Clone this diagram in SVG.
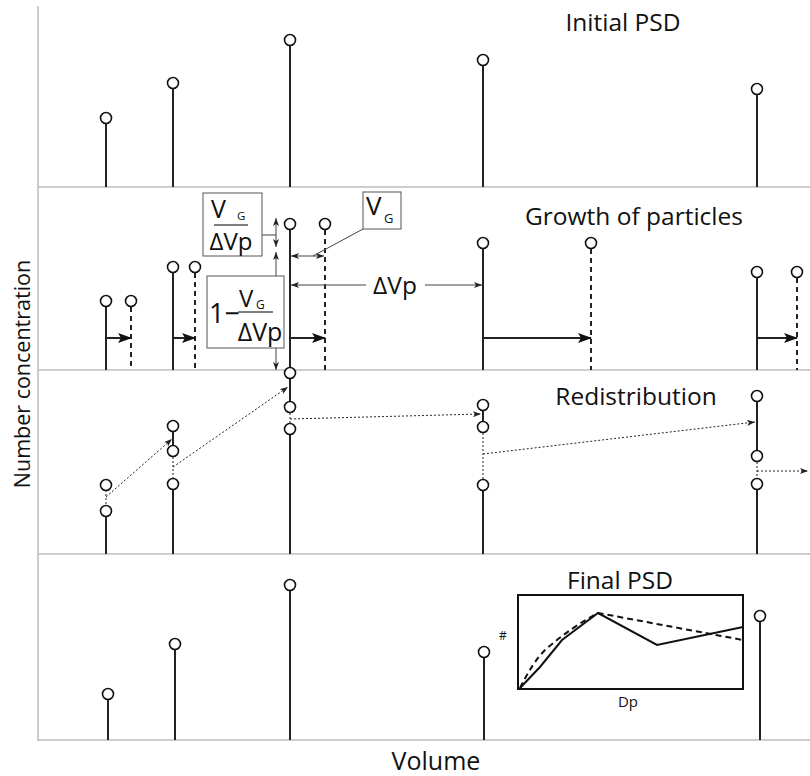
<svg xmlns="http://www.w3.org/2000/svg" width="810" height="776" viewBox="0 0 810 776">
<style>
.ax{stroke:#bdbdbd;stroke-width:1.5;fill:none}
.st{stroke:#222;stroke-width:2;fill:none}
.ds{stroke:#222;stroke-width:2;fill:none;stroke-dasharray:5,4}
.dt{stroke:#222;stroke-width:1;fill:none;stroke-dasharray:2,2}
.dm{stroke:#444;stroke-width:1;fill:none}
.c{fill:#fff;stroke:#111;stroke-width:1.6}
.bx{fill:#fff;stroke:#555;stroke-width:1}
text{font-family:"Open Sans","Noto Sans","DejaVu Sans",sans-serif;fill:#111}
.t{font-size:24.5px}
</style>
<defs>
<marker id="big" markerWidth="14" markerHeight="10" refX="13" refY="5" orient="auto" markerUnits="userSpaceOnUse"><path d="M0,0 L14,5 L0,10 L3,5 Z" fill="#111"/></marker>
<marker id="sm" markerWidth="8" markerHeight="6" refX="8" refY="3" orient="auto-start-reverse" markerUnits="userSpaceOnUse"><path d="M0,0 L8,3 L0,6 L2,3 Z" fill="#222"/></marker>
</defs>

<g id="axes">
<line class="ax" x1="38" y1="6" x2="38" y2="741"/>
<line class="ax" x1="38" y1="187" x2="810" y2="187"/>
<line class="ax" x1="38" y1="370" x2="810" y2="370"/>
<line class="ax" x1="38" y1="554" x2="810" y2="554"/>
<line class="ax" x1="38" y1="740" x2="810" y2="740"/>
<text x="30" y="374" text-anchor="middle" font-size="21.5" transform="rotate(-90 30 374)">Number concentration</text>
<text x="436" y="770" text-anchor="middle" font-size="25">Volume</text>
</g>

<g id="panel-initial">
<text class="t" x="623" y="31" text-anchor="middle">Initial PSD</text>
<line class="st" x1="106" y1="124" x2="106" y2="187"/><circle class="c" cx="106" cy="118" r="5.5"/>
<line class="st" x1="173" y1="89" x2="173" y2="187"/><circle class="c" cx="173" cy="83" r="5.5"/>
<line class="st" x1="290" y1="46" x2="290" y2="187"/><circle class="c" cx="290" cy="40" r="5.5"/>
<line class="st" x1="483" y1="66" x2="483" y2="187"/><circle class="c" cx="483" cy="60" r="5.5"/>
<line class="st" x1="757" y1="95" x2="757" y2="187"/><circle class="c" cx="757" cy="89" r="5.5"/>
</g>

<g id="panel-growth">
<text class="t" x="634" y="225" text-anchor="middle">Growth of particles</text>
<line class="st" x1="106" y1="307" x2="106" y2="370"/><circle class="c" cx="106" cy="301" r="5.5"/>
<line class="ds" x1="131" y1="307" x2="131" y2="370"/><circle class="c" cx="131" cy="301" r="5.5"/>
<line class="st" x1="173" y1="273" x2="173" y2="370"/><circle class="c" cx="173" cy="267" r="5.5"/>
<line class="ds" x1="195" y1="273" x2="195" y2="370"/><circle class="c" cx="195" cy="267" r="5.5"/>
<line class="st" x1="290" y1="230" x2="290" y2="368"/><circle class="c" cx="290" cy="224" r="5.5"/>
<line class="ds" x1="325" y1="230" x2="325" y2="370"/><circle class="c" cx="325" cy="224" r="5.5"/>
<line class="st" x1="483" y1="249" x2="483" y2="370"/><circle class="c" cx="483" cy="243" r="5.5"/>
<line class="ds" x1="591" y1="249" x2="591" y2="370"/><circle class="c" cx="591" cy="243" r="5.5"/>
<line class="st" x1="757" y1="278" x2="757" y2="370"/><circle class="c" cx="757" cy="272" r="5.5"/>
<line class="ds" x1="797" y1="278" x2="797" y2="370"/><circle class="c" cx="797" cy="272" r="5.5"/>
</g>

<g id="connectors">
<line class="st" x1="106" y1="338" x2="131" y2="338" marker-end="url(#big)"/>
<line class="st" x1="173" y1="338" x2="195" y2="338" marker-end="url(#big)"/>
<line class="st" x1="290" y1="338" x2="325" y2="338" marker-end="url(#big)"/>
<line class="st" x1="483" y1="338" x2="591" y2="338" marker-end="url(#big)"/>
<line class="st" x1="757" y1="338" x2="797" y2="338" marker-end="url(#big)"/>
<line class="dm" x1="276" y1="218" x2="276" y2="247" marker-start="url(#sm)" marker-end="url(#sm)"/>
<line class="dm" x1="276" y1="252" x2="276" y2="370" marker-start="url(#sm)" marker-end="url(#sm)"/>
<line class="dm" x1="262" y1="235" x2="276" y2="235"/>
<line class="dm" x1="291" y1="256" x2="324" y2="256" marker-start="url(#sm)" marker-end="url(#sm)"/>
<line class="dm" x1="363" y1="229" x2="313" y2="256"/>
<line class="dm" x1="366" y1="285" x2="291" y2="285" marker-end="url(#sm)"/>
<line class="dm" x1="425" y1="285" x2="482" y2="285" marker-end="url(#sm)"/>
<line class="dt" x1="106" y1="497" x2="172" y2="439" marker-end="url(#sm)"/>
<line class="dt" x1="173" y1="467" x2="288" y2="387" marker-end="url(#sm)"/>
<line class="dt" x1="290" y1="419" x2="481" y2="414" marker-end="url(#sm)"/>
<line class="dt" x1="483" y1="454" x2="755" y2="422" marker-end="url(#sm)"/>
<line class="dt" x1="757" y1="471" x2="808" y2="471" marker-end="url(#sm)"/>
</g>

<g id="label-vg-dvp">
<rect class="bx" x="203" y="193" width="59" height="63"/>
<text x="211" y="218" font-size="25">V</text>
<text x="237" y="220" font-size="11.5">G</text>
<line x1="214" y1="225" x2="248" y2="225" stroke="#555" stroke-width="1.5"/>
<text x="231" y="250" font-size="24" text-anchor="middle">ΔVp</text>
</g>

<g id="label-one-minus">
<rect class="bx" x="207" y="276" width="77" height="72"/>
<text x="209" y="323" font-size="27">1−</text>
<text x="239" y="307" font-size="24">V</text>
<text x="256" y="309" font-size="12">G</text>
<line x1="238" y1="312" x2="273" y2="312" stroke="#555" stroke-width="1.5"/>
<text x="260" y="341" font-size="25" text-anchor="middle">ΔVp</text>
</g>

<g id="label-vg">
<rect class="bx" x="363" y="192" width="38" height="37"/>
<text x="366" y="215" font-size="26">V</text>
<text x="384" y="223" font-size="13">G</text>
</g>

<g id="label-dvp">
<text x="395" y="294" font-size="24.5" text-anchor="middle">ΔVp</text>
</g>

<g id="panel-redistribution">
<text class="t" x="636" y="405" text-anchor="middle">Redistribution</text>
<line class="dt" x1="106" y1="490" x2="106" y2="506"/>
<line class="st" x1="106" y1="517" x2="106" y2="554"/>
<circle class="c" cx="106" cy="485" r="5.5"/><circle class="c" cx="106" cy="511" r="5.5"/>
<line class="st" x1="173" y1="431" x2="173" y2="446"/>
<line class="dt" x1="173" y1="457" x2="173" y2="479"/>
<line class="st" x1="173" y1="490" x2="173" y2="554"/>
<circle class="c" cx="173" cy="426" r="5.5"/><circle class="c" cx="173" cy="451" r="5.5"/><circle class="c" cx="173" cy="484" r="5.5"/>
<line class="st" x1="290" y1="378" x2="290" y2="402"/>
<line class="dt" x1="290" y1="413" x2="290" y2="424"/>
<line class="st" x1="290" y1="435" x2="290" y2="554"/>
<circle class="c" cx="290" cy="373" r="5.5"/><circle class="c" cx="290" cy="407" r="5.5"/><circle class="c" cx="290" cy="429" r="5.5"/>
<line class="st" x1="483" y1="410" x2="483" y2="422"/>
<line class="dt" x1="483" y1="433" x2="483" y2="480"/>
<line class="st" x1="483" y1="491" x2="483" y2="554"/>
<circle class="c" cx="483" cy="405" r="5.5"/><circle class="c" cx="483" cy="427" r="5.5"/><circle class="c" cx="483" cy="485" r="5.5"/>
<line class="st" x1="757" y1="401" x2="757" y2="451"/>
<line class="dt" x1="757" y1="462" x2="757" y2="479"/>
<line class="st" x1="757" y1="490" x2="757" y2="554"/>
<circle class="c" cx="757" cy="396" r="5.5"/><circle class="c" cx="757" cy="456" r="5.5"/><circle class="c" cx="757" cy="484" r="5.5"/>
</g>

<g id="panel-final">
<text class="t" x="620" y="589" text-anchor="middle">Final PSD</text>
<line class="st" x1="108" y1="700" x2="108" y2="740"/><circle class="c" cx="108" cy="694" r="5.5"/>
<line class="st" x1="175" y1="650" x2="175" y2="740"/><circle class="c" cx="175" cy="644" r="5.5"/>
<line class="st" x1="290" y1="591" x2="290" y2="740"/><circle class="c" cx="290" cy="585" r="5.5"/>
<line class="st" x1="484" y1="658" x2="484" y2="740"/><circle class="c" cx="484" cy="652" r="5.5"/>
<line class="st" x1="760" y1="622" x2="760" y2="740"/><circle class="c" cx="760" cy="616" r="5.5"/>
</g>

<g id="inset">
<rect x="518" y="595" width="225" height="94" fill="#fff" stroke="#111" stroke-width="2"/>
<polyline points="520,688 540,667 562,640 598,613 657,645 743,627" fill="none" stroke="#111" stroke-width="2"/>
<path d="M520,688 Q533,662 545,650 Q570,628 598,613 L743,640" fill="none" stroke="#111" stroke-width="2" stroke-dasharray="6,4"/>
<text x="503" y="640" font-size="12" text-anchor="middle">#</text>
<text x="628" y="707" font-size="15" text-anchor="middle">Dp</text>
</g>
</svg>
